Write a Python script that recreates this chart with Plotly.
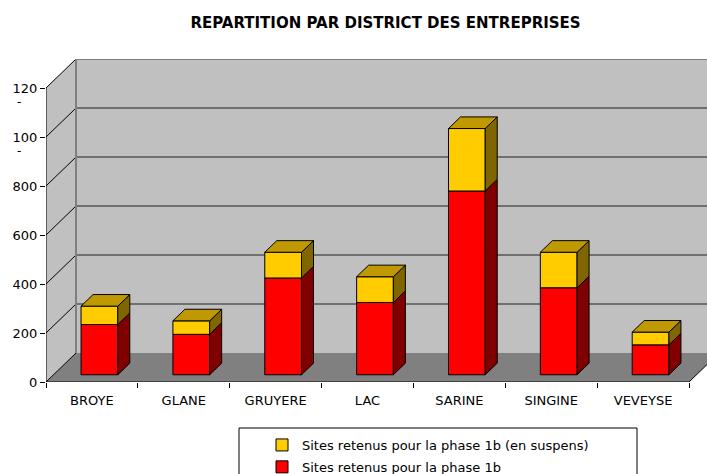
import plotly.graph_objects as go

# ---------------- data ----------------
categories = ["BROYE", "GLANE", "GRUYERE", "LAC", "SARINE", "SINGINE", "VEVEYSE"]
phase1b = [205, 165, 395, 295, 750, 355, 122]          # red
suspens = [75, 55, 105, 105, 255, 145, 52]             # yellow (en suspens)
ytick_vals = [0, 200, 400, 600, 800, 1000, 1200]
ytick_text = ["0", "200", "400", "600", "800", "100", "120"]
title_text = "REPARTITION PAR DISTRICT DES ENTREPRISES"
name_susp = "Sites retenus pour la phase 1b (en suspens)"
name_red = "Sites retenus pour la phase 1b"

# ---------------- geometry ----------------
W, H = 707, 474
L, R, T, B = 46, 0, 59, 92
plot_w = W - L - R
plot_h = H - T - B
n = len(categories)
px_per_x = (689 - 46) / n
px_per_y = (382 - 88) / 1200
xr = [-0.5, -0.5 + plot_w / px_per_x]
yr = [0, plot_h / px_per_y]
DX = 30 / px_per_x
DY = yr[1] - 1200
F0, FD, BW = 0.25, 0.4, 0.4

RED, RED_SIDE = "#FF0000", "#800000"
YEL, YEL_SIDE, YEL_TOP = "#FFCC00", "#806600", "#C09900"
FONT = "DejaVu Sans"

xc = [i + F0 * DX for i in range(n)]
base0 = F0 * DY
ddx, ddy = FD * DX, FD * DY

fig = go.Figure()

# front faces
fig.add_trace(go.Bar(x=xc, y=phase1b, base=[base0] * n, width=BW, name=name_red,
                     marker=dict(color=RED, line=dict(color="black", width=1)),
                     legendrank=2, legendgroup="r", hoverinfo="skip"))
mids = [base0 + v for v in phase1b]
fig.add_trace(go.Bar(x=xc, y=suspens, base=mids, width=BW, name=name_susp,
                     marker=dict(color=YEL, line=dict(color="black", width=1)),
                     legendrank=1, legendgroup="y", hoverinfo="skip"))

def poly(xs, ys, color):
    fig.add_trace(go.Scatter(x=xs, y=ys, mode="lines", fill="toself", fillcolor=color,
                             line=dict(color="black", width=1), showlegend=False,
                             hoverinfo="skip"))

for i in range(n):
    x0 = xc[i] - BW / 2
    x1 = xc[i] + BW / 2
    b = base0
    m = mids[i]
    t = m + suspens[i]
    poly([x1, x1 + ddx, x1 + ddx, x1, x1], [b, b + ddy, m + ddy, m, b], RED_SIDE)
    poly([x1, x1 + ddx, x1 + ddx, x1, x1], [m, m + ddy, t + ddy, t, m], YEL_SIDE)
    poly([x0, x1, x1 + ddx, x0 + ddx, x0], [t, t, t + ddy, t + ddy, t], YEL_TOP)

# ---------------- walls / floor ----------------
shapes = []
xl = -0.5
xrt = n - 0.5
xfar = xr[1] + 1
def path(pts):
    return "M " + " L ".join(f"{x},{y}" for x, y in pts) + " Z"

shapes.append(dict(type="path", path=path([(xl + DX, DY), (xfar, DY), (xfar, 1200 + DY), (xl + DX, 1200 + DY)]),
                   fillcolor="#C0C0C0", line=dict(width=0), layer="below"))
shapes.append(dict(type="path", path=path([(xl, 0), (xl, 1200), (xl + DX, 1200 + DY), (xl + DX, DY)]),
                   fillcolor="#C0C0C0", line=dict(width=0), layer="below"))
shapes.append(dict(type="path", path=path([(xl, 0), (xrt, 0), (xrt + DX, DY), (xl + DX, DY)]),
                   fillcolor="#808080", line=dict(width=0), layer="below"))
for v in ytick_vals[1:-1]:
    shapes.append(dict(type="line", x0=xl + DX, x1=xfar, y0=v + DY, y1=v + DY,
                       line=dict(color="#202020", width=1), layer="below"))
for v in ytick_vals:
    shapes.append(dict(type="line", x0=xl, x1=xl + DX, y0=v, y1=v + DY,
                       line=dict(color="black", width=1), layer="below"))
# back-wall edges
shapes.append(dict(type="line", x0=xl + DX, x1=xl + DX, y0=DY, y1=1200 + DY,
                   line=dict(color="#808080", width=2), layer="below"))
shapes.append(dict(type="line", x0=xl + DX, x1=xfar, y0=1200 + DY, y1=1200 + DY,
                   line=dict(color="#808080", width=2), layer="below"))
# front axes
shapes.append(dict(type="line", x0=xl, x1=xl, y0=0, y1=1200, line=dict(color="black", width=1)))
shapes.append(dict(type="line", x0=xl, x1=xrt, y0=0, y1=0, line=dict(color="black", width=1)))
shapes.append(dict(type="line", x0=xrt, x1=xrt + DX, y0=0, y1=DY, line=dict(color="black", width=1)))

# legend box (paper coords relative to plot area)
def pxx(p):
    return (p - L) / plot_w
def pyy(p):
    return (H - B - p) / plot_h
shapes.append(dict(type="rect", xref="paper", yref="paper", x0=pxx(239), x1=pxx(637),
                   y0=pyy(490), y1=pyy(428), line=dict(color="black", width=1),
                   fillcolor="rgba(0,0,0,0)"))

annotations = []
for v in [1000, 1200]:
    annotations.append(dict(x=pxx(15), y=v, xref="paper", yref="y", text="-", showarrow=False,
                            yshift=-14, font=dict(family=FONT, size=12, color="black")))

fig.update_layout(
    width=W, height=H,
    margin=dict(l=L, r=R, t=T, b=B, pad=0, autoexpand=False),
    paper_bgcolor="white", plot_bgcolor="white",
    barmode="overlay",
    shapes=shapes, annotations=annotations,
    title=dict(text=f"<b>{title_text}</b>", x=385.5 / W, xanchor="center",
               y=1 - 22.7 / H, yanchor="middle", automargin=False,
               font=dict(family=FONT, size=15, color="black")),
    font=dict(family=FONT, size=13, color="black"),
    showlegend=True,
    legend=dict(x=pxx(262), y=pyy(430), xanchor="left", yanchor="top",
                bgcolor="rgba(0,0,0,0)", borderwidth=0, tracegroupgap=2,
                font=dict(family=FONT, size=13, color="black")),
    xaxis=dict(range=xr, tickmode="array", tickvals=list(range(n)), ticktext=categories,
               ticks="", showgrid=False, zeroline=False, showline=False, fixedrange=True,
               ticklabelstandoff=9, automargin=False,
               minor=dict(tickmode="array", tickvals=[i - 0.5 for i in range(n + 1)],
                          ticks="outside", ticklen=5, tickcolor="black", tickwidth=1,
                          showgrid=False)),
    yaxis=dict(range=yr, tickmode="array", tickvals=ytick_vals, ticktext=ytick_text,
               ticks="outside", ticklen=5, tickcolor="black", tickwidth=1, automargin=False,
               showgrid=False, zeroline=False, showline=False, fixedrange=True),
)

fig.write_html("out.html", config={"displayModeBar": False},
               post_script="document.body.style.margin='0';document.body.style.padding='0';")
